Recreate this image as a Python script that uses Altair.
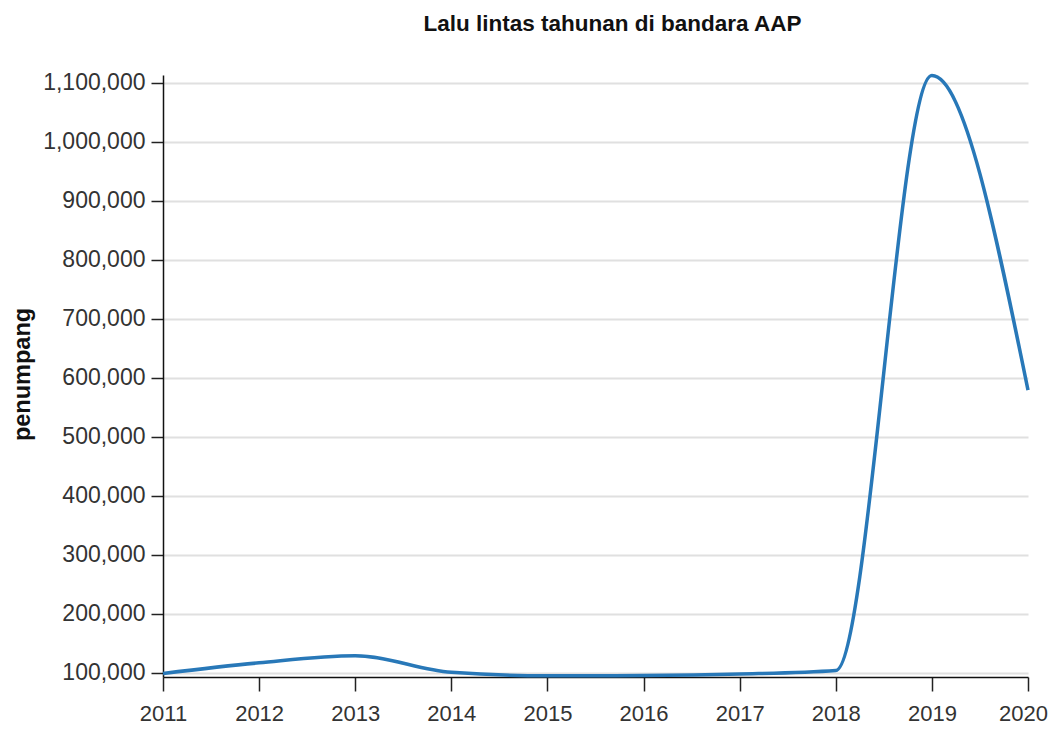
import altair as alt
import pandas as pd

# Data
years = [2011, 2012, 2013, 2014, 2015, 2016, 2017, 2018, 2019, 2020]
passengers = [99000, 117000, 129000, 101000, 95000, 95500, 98000, 104000, 1112000, 579000]
y_tick_values = [100000, 200000, 300000, 400000, 500000, 600000,
                 700000, 800000, 900000, 1000000, 1100000]
y_domain = [93000, 1113000]
x_domain = [2011, 2020]

title_text = "Lalu lintas tahunan di bandara AAP"
y_title = "penumpang"

df = pd.DataFrame({"tahun": years, "penumpang": passengers})

FONT = "Liberation Sans"

line = alt.Chart(df).mark_line(
    interpolate="monotone", color="#2878b8", strokeWidth=3.5
).encode(
    x=alt.X(
        "tahun:Q",
        scale=alt.Scale(domain=x_domain, nice=False, zero=False),
        axis=alt.Axis(
            values=years, format="d", title=None, grid=False,
            labelFlush=False, labelOverlap=False,
            tickSize=14, tickColor="#222", tickWidth=1.5,
            domainColor="#111", domainWidth=1.5,
            labelPadding=12, labelFont=FONT, labelFontSize=22,
            labelColor="#333",
            labelOffset={"condition": {"test": "datum.value == 2020", "value": -5}, "value": 0},
        ),
    ),
    y=alt.Y(
        "penumpang:Q",
        scale=alt.Scale(domain=y_domain, nice=False, zero=False),
        axis=alt.Axis(
            values=y_tick_values, format=",d", title=y_title,
            grid=True, gridColor="#e0e0e0", gridWidth=2,
            tickSize=12, tickColor="#222", tickWidth=1.5,
            domainColor="#111", domainWidth=1.5,
            labelPadding=6, labelFont=FONT, labelFontSize=23,
            labelColor="#333", labelOverlap=False, labelFlush=False,
            titleFont=FONT, titleFontSize=23.5,
            titleFontWeight="bold", titleColor="#111",
            titleAngle=270, titleAlign="center", titleBaseline="alphabetic",
            titleX=-133.5, titleY=299,
        ),
    ),
).properties(
    width=865,
    height=602,
    title=alt.TitleParams(
        text=title_text, anchor="middle", font=FONT, fontSize=22.5,
        fontWeight="bold", color="#111", offset=33, frame="group", dx=17,
    ),
    autosize=alt.AutoSizeParams(type="none"),
    padding={"left": 155, "top": 67, "right": 20, "bottom": 50},
)

chart = line.configure_view(stroke=None)

chart.save("out.html", embed_options={"renderer": "svg", "actions": False})
